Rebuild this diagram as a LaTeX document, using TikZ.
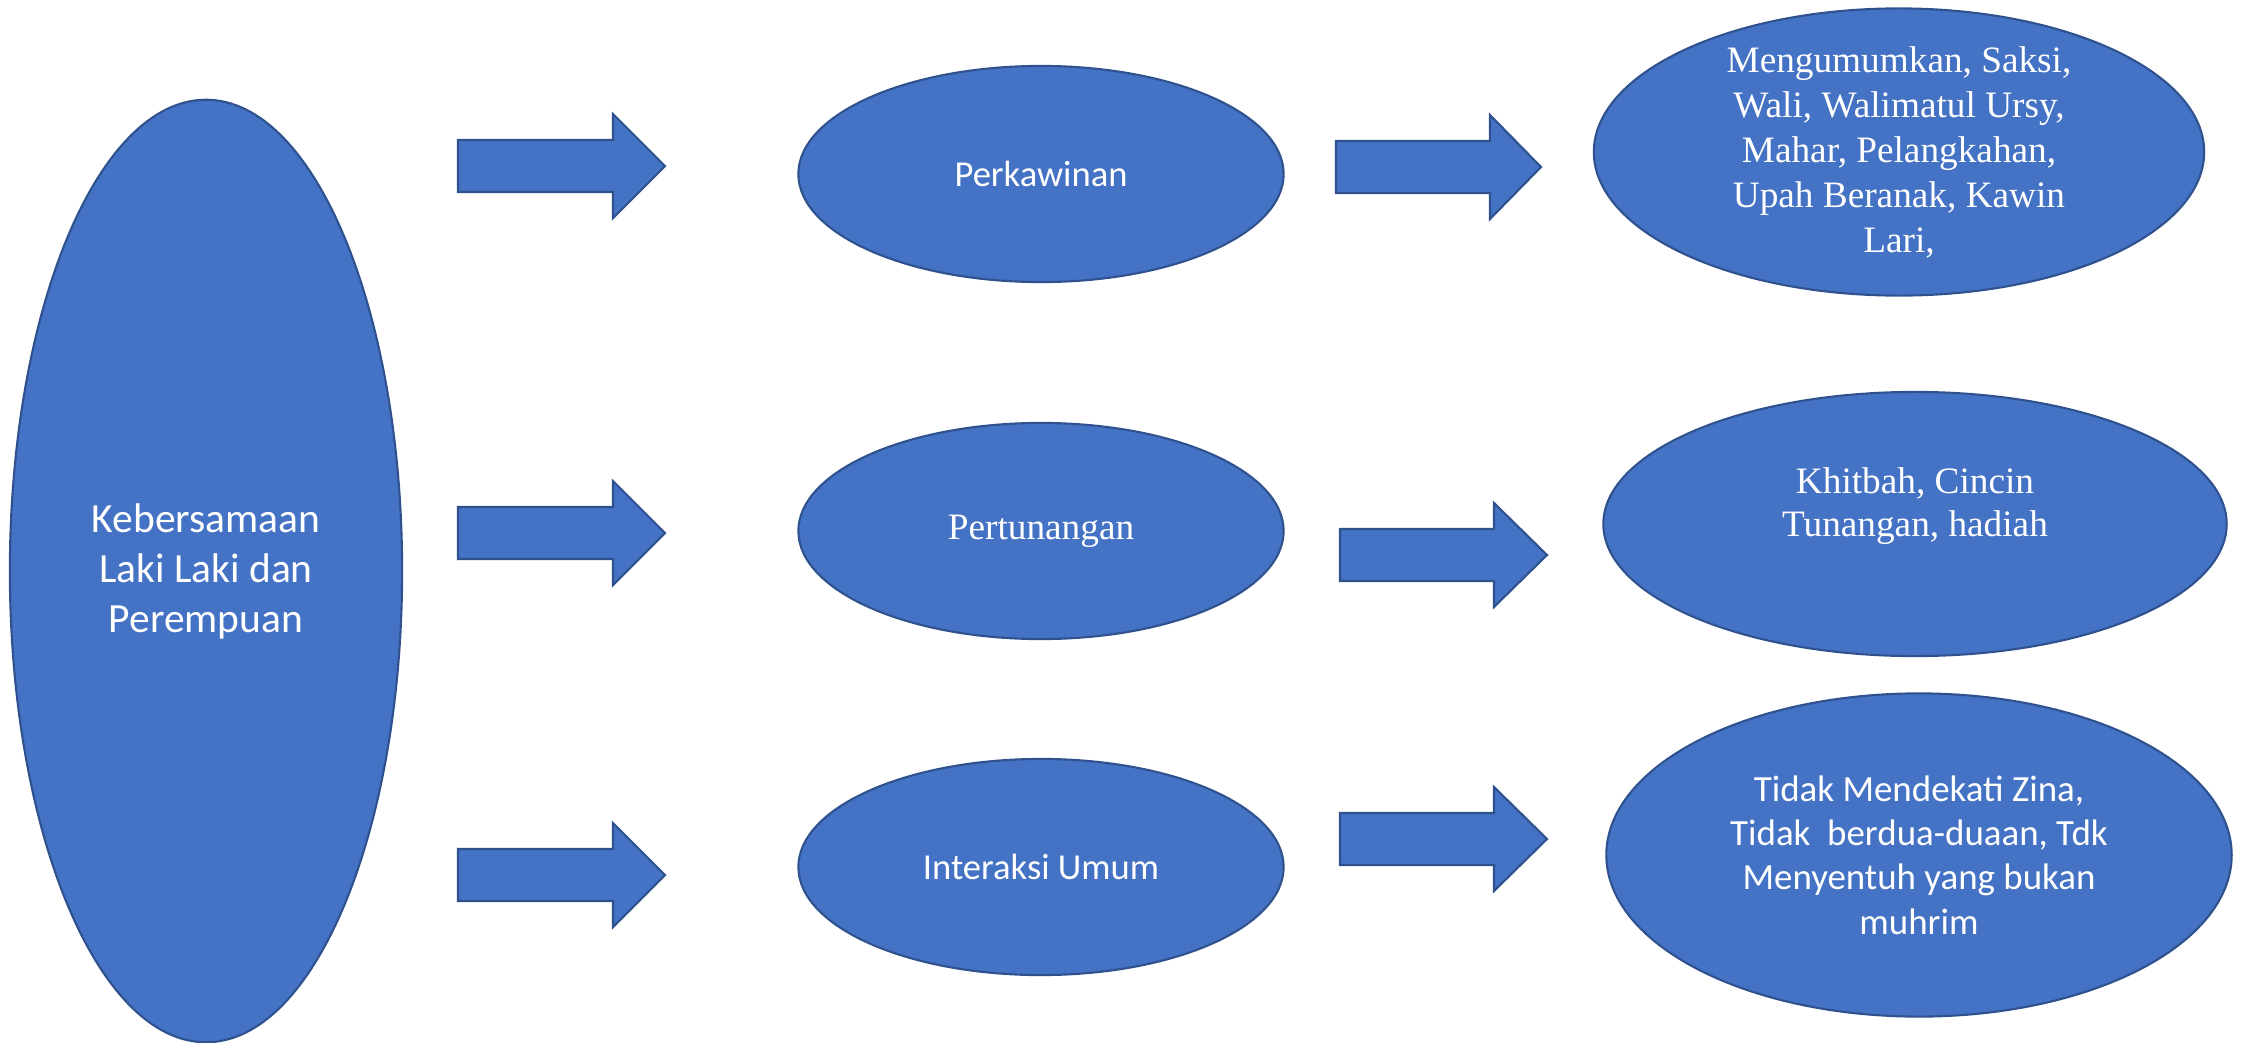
\documentclass[tikz,border=0pt]{standalone}
\usepackage{fontspec}
\usetikzlibrary{shapes.geometric}
\setmainfont{Liberation Serif}
\newfontfamily\calibri{Carlito}
\definecolor{isi}{HTML}{4472C4}
\definecolor{garis}{HTML}{2F528F}
\tikzset{
  bulat/.style={ellipse, draw=garis, line width=0.6pt, fill=isi, inner sep=0pt},
  teks/.style={text=white, align=center, inner sep=0pt},
  panah/.style={draw=garis, line width=0.6pt, fill=isi, line join=miter},
}
\begin{document}
\begin{tikzpicture}[x=0.01cm, y=-0.01cm]
  \useasboundingbox (0,0) rectangle (2242,1042);
  % kolom kiri
  \node[bulat, minimum width=3.92cm, minimum height=9.42cm] (utama) at (206,571) {};
  \node[teks, font=\calibri\fontsize{11.8}{14.2}\selectfont] (utamatxt) at (utama.center)
    {Kebersamaan\\Laki Laki dan\\Perempuan};
  % kolom tengah
  \node[bulat, minimum width=4.85cm, minimum height=2.16cm] (kawin) at (1041,174) {};
  \node[teks, font=\calibri\fontsize{10.4}{12.6}\selectfont] (kawintxt) at (kawin.center) {Perkawinan};
  \node[bulat, minimum width=4.85cm, minimum height=2.16cm] (tunang) at (1041,531) {};
  \node[teks, font=\fontsize{10.6}{12.8}\selectfont] (tunangtxt) at (tunang.center) {Pertunangan};
  \node[bulat, minimum width=4.85cm, minimum height=2.16cm] (umum) at (1041,867) {};
  \node[teks, font=\calibri\fontsize{10.4}{12.6}\selectfont] (umumtxt) at (umum.center) {Interaksi Umum};
  % kolom kanan
  \node[bulat, minimum width=6.10cm, minimum height=2.87cm] (syarat) at (1899,152) {};
  \node[teks, font=\fontsize{10.6}{12.8}\selectfont] (syarattxt) at (syarat.center)
    {Mengumumkan, Saksi,\\Wali, Walimatul Ursy,\\Mahar, Pelangkahan,\\Upah Beranak, Kawin\\Lari,};
  \node[bulat, minimum width=6.23cm, minimum height=2.64cm] (khitbah) at (1915,524) {};
  \node[teks, font=\fontsize{10.6}{12.2}\selectfont] (khitbahtxt) at ([yshift=0.18cm]khitbah.center)
    {Khitbah, Cincin\\Tunangan, hadiah};
  \node[bulat, minimum width=6.25cm, minimum height=3.23cm] (adab) at (1919,855) {};
  \node[teks, font=\calibri\fontsize{10.5}{12.6}\selectfont] (adabtxt) at (adab.center)
    {Tidak Mendekati Zina,\\Tidak\ \ berdua-duaan, Tdk\\Menyentuh yang bukan\\muhrim};
  % panah blok
  \foreach \xa/\xb/\xt/\yc in {458/613/665/166, 458/613/665/533, 458/613/665/875,
      1336/1490/1541/167, 1340/1494/1547/555, 1340/1494/1547/839}
    \draw[panah] (\xa,\yc-26) -- (\xb,\yc-26) -- (\xb,\yc-52) -- (\xt,\yc)
      -- (\xb,\yc+52) -- (\xb,\yc+26) -- (\xa,\yc+26) -- cycle;
\end{tikzpicture}
\end{document}
